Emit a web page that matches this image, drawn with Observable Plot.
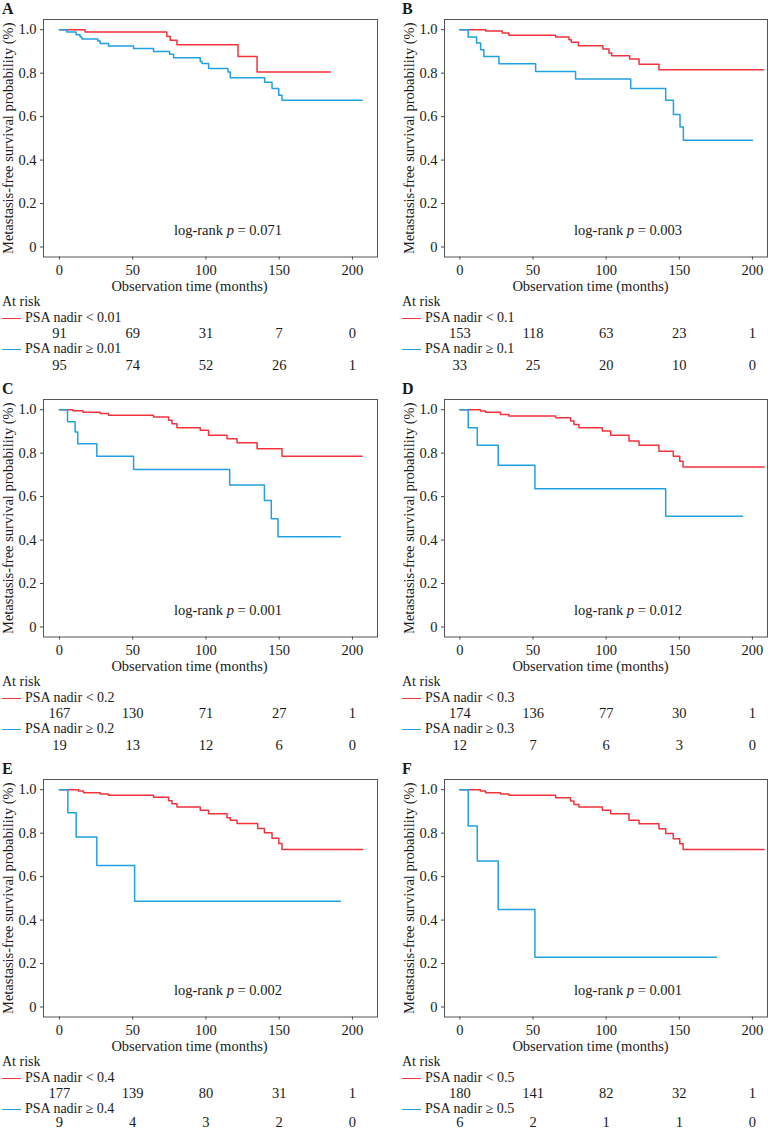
<!DOCTYPE html>
<html><head><meta charset="utf-8">
<script src="https://cdn.jsdelivr.net/npm/d3@7"></script>
<script src="https://cdn.jsdelivr.net/npm/@observablehq/plot@0.6"></script>
<style>
body{margin:0;background:#fff;}
#fig{position:relative;width:779px;height:1130px;overflow:hidden;font-family:"Liberation Serif",serif;color:#1a1a1a;background:#fff;}
.panel{position:absolute;}
.letter{position:absolute;font-weight:bold;font-size:16px;line-height:18px;}
.lg{position:absolute;font-size:14px;line-height:14px;white-space:nowrap;}
.sw{position:absolute;height:0;width:19px;border-top:1.4px solid;}
</style></head><body><div id="fig"></div>
<script>
// ---- labels ----
const panelLetters = ["A","B","C","D","E","F"];
const thresholds = ["0.01","0.1","0.2","0.3","0.4","0.5"];
const pValues = ["0.071","0.003","0.001","0.012","0.002","0.001"];
const xTitle = "Observation time (months)";
const yTitle = "Metastasis-free survival probability (%)";
const xTicks = [0,50,100,150,200];
const xTickLabels = ["0","50","100","150","200"];
const yTicks = [0,0.2,0.4,0.6,0.8,1.0];
const yTickLabels = ["0","0.2","0.4","0.6","0.8","1.0"];
const riskTimes = [0,50,100,150,200];

// ---- numbers at risk ----
const riskLowA = [91,69,31,7,0],    riskHighA = [95,74,52,26,1];
const riskLowB = [153,118,63,23,1], riskHighB = [33,25,20,10,0];
const riskLowC = [167,130,71,27,1], riskHighC = [19,13,12,6,0];
const riskLowD = [174,136,77,30,1], riskHighD = [12,7,6,3,0];
const riskLowE = [177,139,80,31,1], riskHighE = [9,4,3,2,0];
const riskLowF = [180,141,82,32,1], riskHighF = [6,2,1,1,0];

// ---- Kaplan-Meier curves (time in months, survival) ----
const timeLowA = [0,17.5,73.3,75.6,80.2,121.9,134.9,185];
const survLowA = [1,0.989,0.969,0.951,0.931,0.877,0.805,0.805];
const timeHighA = [0,5.0,11.4,14.1,15.3,26.2,27.8,33.5,50.6,64.2,75.2,77.9,96.1,97.3,101.8,115.0,116.6,140.1,145.1,149.7,151.9,206.6];
const survHighA = [1,0.989,0.977,0.966,0.957,0.948,0.936,0.925,0.913,0.900,0.887,0.871,0.854,0.844,0.821,0.805,0.779,0.758,0.729,0.698,0.675,0.675];

const timeLowB = [0,17.6,29.0,33.5,65.5,74.6,76.2,81.0,97.8,101.9,103.8,116.1,122.5,136.1,207.6];
const survLowB = [1,0.994,0.985,0.975,0.966,0.954,0.942,0.926,0.911,0.893,0.880,0.865,0.841,0.816,0.816];
const timeHighB = [0,5.7,11.4,14.2,16.4,26.7,51.8,79.1,116.8,140.7,146.0,150.5,152.8,200];
const survHighB = [1,0.966,0.939,0.908,0.877,0.843,0.808,0.773,0.729,0.675,0.610,0.552,0.491,0.491];

const timeLowC = [0,9.1,16.0,27.8,33.5,64.2,74.5,76.8,80.2,96.1,101.8,114.4,121.2,134.9,151.9,206.6];
const survLowC = [1,0.995,0.988,0.982,0.974,0.966,0.951,0.935,0.917,0.905,0.882,0.866,0.848,0.820,0.786,0.786];
const timeHighC = [0,5.5,10.7,12.5,25.5,50.6,116.2,139.9,144.6,149.2,191.8];
const survHighC = [1,0.945,0.897,0.843,0.786,0.725,0.653,0.582,0.498,0.415,0.415];

const timeLowD = [0,14.1,17.6,27.8,33.5,65.5,75.7,78.0,81.4,97.4,103.1,115.6,122.5,136.1,145.9,150.3,152.6,208];
const survLowD = [1,0.994,0.988,0.978,0.971,0.963,0.948,0.932,0.917,0.902,0.883,0.856,0.836,0.809,0.786,0.763,0.736,0.736];
const timeHighD = [0,5.7,11.9,26.2,51.3,140.7,193.2];
const survHighD = [1,0.917,0.836,0.744,0.636,0.510,0.510];

const timeLowE = [0,13.0,16.4,27.8,33.5,64.2,74.5,76.8,80.2,96.1,101.8,114.4,116.6,121.2,135.3,139.9,145.1,149.7,151.9,207.1];
const survLowE = [1,0.994,0.986,0.980,0.974,0.965,0.949,0.935,0.920,0.906,0.889,0.871,0.859,0.845,0.822,0.802,0.777,0.753,0.725,0.725];
const timeHighE = [0,5.7,11.4,25.5,51.3,191.8];
const survHighE = [1,0.894,0.782,0.651,0.487,0.487];

const timeLowF = [0,14.1,17.6,27.8,33.5,65.5,75.7,78.0,81.4,97.4,103.1,115.6,122.5,136.1,140.7,145.9,150.3,152.6,208];
const survLowF = [1,0.994,0.986,0.980,0.974,0.963,0.948,0.932,0.920,0.906,0.889,0.860,0.843,0.820,0.799,0.774,0.751,0.725,0.725];
const timeHighF = [0,5.7,11.9,26.2,51.3,175.4];
const survHighF = [1,0.833,0.672,0.449,0.229,0.229];

const red = "#f2323c", blue = "#21a1e1";

const curves = [
  [timeLowA,survLowA,timeHighA,survHighA,riskLowA,riskHighA],
  [timeLowB,survLowB,timeHighB,survHighB,riskLowB,riskHighB],
  [timeLowC,survLowC,timeHighC,survHighC,riskLowC,riskHighC],
  [timeLowD,survLowD,timeHighD,survHighD,riskLowD,riskHighD],
  [timeLowE,survLowE,timeHighE,survHighE,riskLowE,riskHighE],
  [timeLowF,survLowF,timeHighF,survHighF,riskLowF,riskHighF]
];

const fig = document.getElementById("fig");
const toPts = (ts, ss) => ts.map((t, i) => ({t, s: ss[i]}));

curves.forEach(([tl, sl, th, sh, rl, rh], k) => {
  const col = k % 2, row = Math.floor(k / 2);
  const left = col === 0 ? 0 : 400, top = row * 380;
  const width = col === 0 ? 390 : 379;
  const marginLeft = col === 0 ? 43 : 44;
  const marginRight = col === 0 ? 13 : 12;
  const xDomain = col === 0 ? [-10.9, 217.1] : [-10.5, 210.3];
  const riskRows = riskTimes.map((t, i) => ({t, low: String(rl[i]), high: String(rh[i])}));
  const pLabel = "log-rank p = " + pValues[k];
  const ink = "#1a1a1a";
  const highDy = row === 2 ? 105.5 : 108;

  const svg = Plot.plot({
    width, height: 380,
    marginTop: 19, marginBottom: 123.5, marginLeft, marginRight,
    style: {fontFamily: "'Liberation Serif', serif", fontSize: "14.5px", color: ink, background: "transparent", overflow: "visible"},
    x: {domain: xDomain, label: null},
    y: {domain: [-0.046, 1.047], label: null},
    marks: [
      Plot.axisY({ticks: yTicks, tickFormat: d => yTickLabels[yTicks.indexOf(d)], tickSize: 3, tickPadding: 4, label: null, stroke: "#444"}),
      Plot.axisX({ticks: xTicks, tickFormat: d => xTickLabels[xTicks.indexOf(d)], tickSize: 3, tickPadding: 5, label: null, stroke: "#444"}),
      Plot.line(toPts(tl, sl), {x: "t", y: "s", curve: "step-after", stroke: red, strokeWidth: 1.5}),
      Plot.line(toPts(th, sh), {x: "t", y: "s", curve: "step-after", stroke: blue, strokeWidth: 1.5}),
      Plot.frame({stroke: "#555", strokeWidth: 1}),
      Plot.text([pLabel], {x: 115, y: 0.077, textAnchor: "middle", lineAnchor: "middle", fill: ink}),
      Plot.text([yTitle], {frameAnchor: "left", rotate: -90, dx: -35.5, textAnchor: "middle", lineAnchor: "middle", fill: ink}),
      Plot.text([xTitle], {frameAnchor: "bottom-left", dx: 146, dy: 29.5, textAnchor: "middle", lineAnchor: "middle", fill: ink}),
      Plot.text(riskRows, {x: "t", text: "low", frameAnchor: "bottom", dy: 76.5, lineAnchor: "middle", textAnchor: "middle", fill: ink}),
      Plot.text(riskRows, {x: "t", text: "high", frameAnchor: "bottom", dy: highDy, lineAnchor: "middle", textAnchor: "middle", fill: ink})
    ]
  });
  // italic p in log-rank label
  d3.select(svg).selectAll("text").filter(function(){ return this.textContent === pLabel; }).each(function(){
    const el = d3.select(this); el.text("");
    el.append("tspan").text("log-rank ");
    el.append("tspan").attr("font-style", "italic").text("p");
    el.append("tspan").text(" = " + pValues[k]);
  });

  const wrap = document.createElement("div");
  wrap.className = "panel";
  wrap.style.left = left + "px"; wrap.style.top = top + "px";
  wrap.appendChild(svg);
  fig.appendChild(wrap);

  const add = (cls, html, x, y, extra) => {
    const d = document.createElement("div");
    d.className = cls; d.innerHTML = html;
    d.style.left = (left + x) + "px"; d.style.top = (top + y) + "px";
    if (extra) Object.assign(d.style, extra);
    fig.appendChild(d);
  };
  add("letter", panelLetters[k], 2, 0);
  add("lg", "At risk", 2, 295);
  add("sw", "", 2, 317.5, {borderTopColor: red});
  add("lg", "PSA nadir &lt; " + thresholds[k], 25, 311);
  add("sw", "", 2, 348.5, {borderTopColor: blue});
  add("lg", "PSA nadir ≥ " + thresholds[k], 25, 342);
});
</script></body></html>
